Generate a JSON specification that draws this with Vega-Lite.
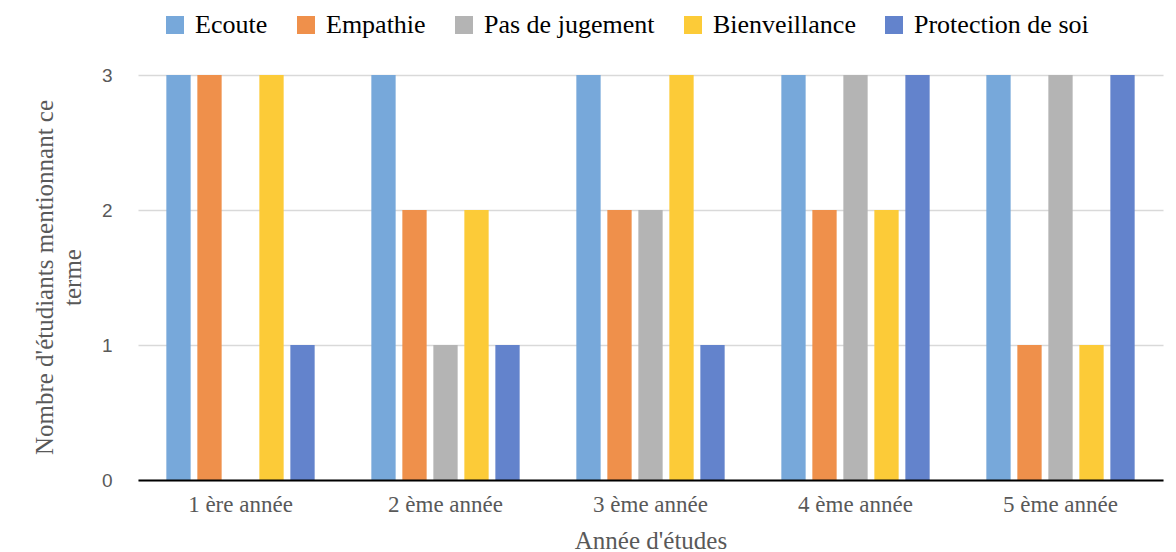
{
  "$schema": "https://vega.github.io/schema/vega-lite/v6.json",
  "width": 1025,
  "height": 405,
  "autosize": {"type": "none"},
  "padding": {"left": 138, "top": 75, "right": 13, "bottom": 72},
  "background": "white",
  "config": {"view": {"stroke": null}},
  "data": {
    "values": [
      {"annee": "1 ère année", "terme": "Ecoute", "n": 3},
      {"annee": "1 ère année", "terme": "Empathie", "n": 3},
      {"annee": "1 ère année", "terme": "Pas de jugement", "n": 0},
      {"annee": "1 ère année", "terme": "Bienveillance", "n": 3},
      {"annee": "1 ère année", "terme": "Protection de soi", "n": 1},
      {"annee": "2 ème année", "terme": "Ecoute", "n": 3},
      {"annee": "2 ème année", "terme": "Empathie", "n": 2},
      {"annee": "2 ème année", "terme": "Pas de jugement", "n": 1},
      {"annee": "2 ème année", "terme": "Bienveillance", "n": 2},
      {"annee": "2 ème année", "terme": "Protection de soi", "n": 1},
      {"annee": "3 ème année", "terme": "Ecoute", "n": 3},
      {"annee": "3 ème année", "terme": "Empathie", "n": 2},
      {"annee": "3 ème année", "terme": "Pas de jugement", "n": 2},
      {"annee": "3 ème année", "terme": "Bienveillance", "n": 3},
      {"annee": "3 ème année", "terme": "Protection de soi", "n": 1},
      {"annee": "4 ème année", "terme": "Ecoute", "n": 3},
      {"annee": "4 ème année", "terme": "Empathie", "n": 2},
      {"annee": "4 ème année", "terme": "Pas de jugement", "n": 3},
      {"annee": "4 ème année", "terme": "Bienveillance", "n": 2},
      {"annee": "4 ème année", "terme": "Protection de soi", "n": 3},
      {"annee": "5 ème année", "terme": "Ecoute", "n": 3},
      {"annee": "5 ème année", "terme": "Empathie", "n": 1},
      {"annee": "5 ème année", "terme": "Pas de jugement", "n": 3},
      {"annee": "5 ème année", "terme": "Bienveillance", "n": 1},
      {"annee": "5 ème année", "terme": "Protection de soi", "n": 3}
    ]
  },
  "mark": {"type": "bar"},
  "encoding": {
    "x": {
      "field": "annee",
      "type": "nominal",
      "sort": ["1 ère année", "2 ème année", "3 ème année", "4 ème année", "5 ème année"],
      "scale": {"paddingInner": 0, "paddingOuter": 0},
      "axis": {
        "title": "Année d'études",
        "titleFont": "Liberation Serif",
        "titleFontSize": 25,
        "titleFontWeight": "normal",
        "titleColor": "#595959",
        "titleY": 68,
        "titleBaseline": "alphabetic",
        "labelFont": "Liberation Serif",
        "labelFontSize": 23,
        "labelColor": "#595959",
        "labelAngle": 0,
        "labelBaseline": "alphabetic",
        "labelPadding": 31,
        "ticks": false,
        "tickSize": 0,
        "domainColor": "#000000",
        "domainWidth": 2,
        "zindex": 1
      }
    },
    "xOffset": {
      "field": "terme",
      "type": "nominal",
      "sort": ["Ecoute", "Empathie", "Pas de jugement", "Bienveillance", "Protection de soi"],
      "scale": {"paddingInner": 0.216, "paddingOuter": 0.914}
    },
    "y": {
      "field": "n",
      "type": "quantitative",
      "scale": {"domain": [0, 3]},
      "axis": {
        "title": ["Nombre d'étudiants mentionnant ce", "terme"],
        "titleFont": "Liberation Serif",
        "titleFontSize": 25,
        "titleFontWeight": "normal",
        "titleColor": "#595959",
        "titleAngle": -90,
        "titleX": -86,
        "titleY": 202,
        "titleAlign": "center",
        "titleBaseline": "alphabetic",
        "titleLineHeight": 28,
        "values": [0, 1, 2, 3],
        "format": "d",
        "labelFont": "Liberation Sans",
        "labelFontSize": 19,
        "labelColor": "#595959",
        "labelPadding": 26,
        "ticks": false,
        "tickSize": 0,
        "domain": false,
        "grid": true,
        "gridColor": "#d9d9d9",
        "gridWidth": 1.5
      }
    },
    "color": {
      "field": "terme",
      "type": "nominal",
      "sort": ["Ecoute", "Empathie", "Pas de jugement", "Bienveillance", "Protection de soi"],
      "scale": {
        "domain": ["Ecoute", "Empathie", "Pas de jugement", "Bienveillance", "Protection de soi"],
        "range": ["#77A8DA", "#EF904B", "#B4B4B4", "#FCCB38", "#6383CC"]
      },
      "legend": {
        "title": null,
        "orient": "none",
        "legendX": 24,
        "legendY": -63,
        "direction": "horizontal",
        "padding": 0,
        "symbolType": "square",
        "symbolSize": 324,
        "symbolStrokeWidth": 0,
        "labelFont": "Liberation Serif",
        "labelFontSize": 26,
        "labelColor": "#000000",
        "labelOffset": 7,
        "columnPadding": 25,
        "labelLimit": 400
      }
    }
  }
}
